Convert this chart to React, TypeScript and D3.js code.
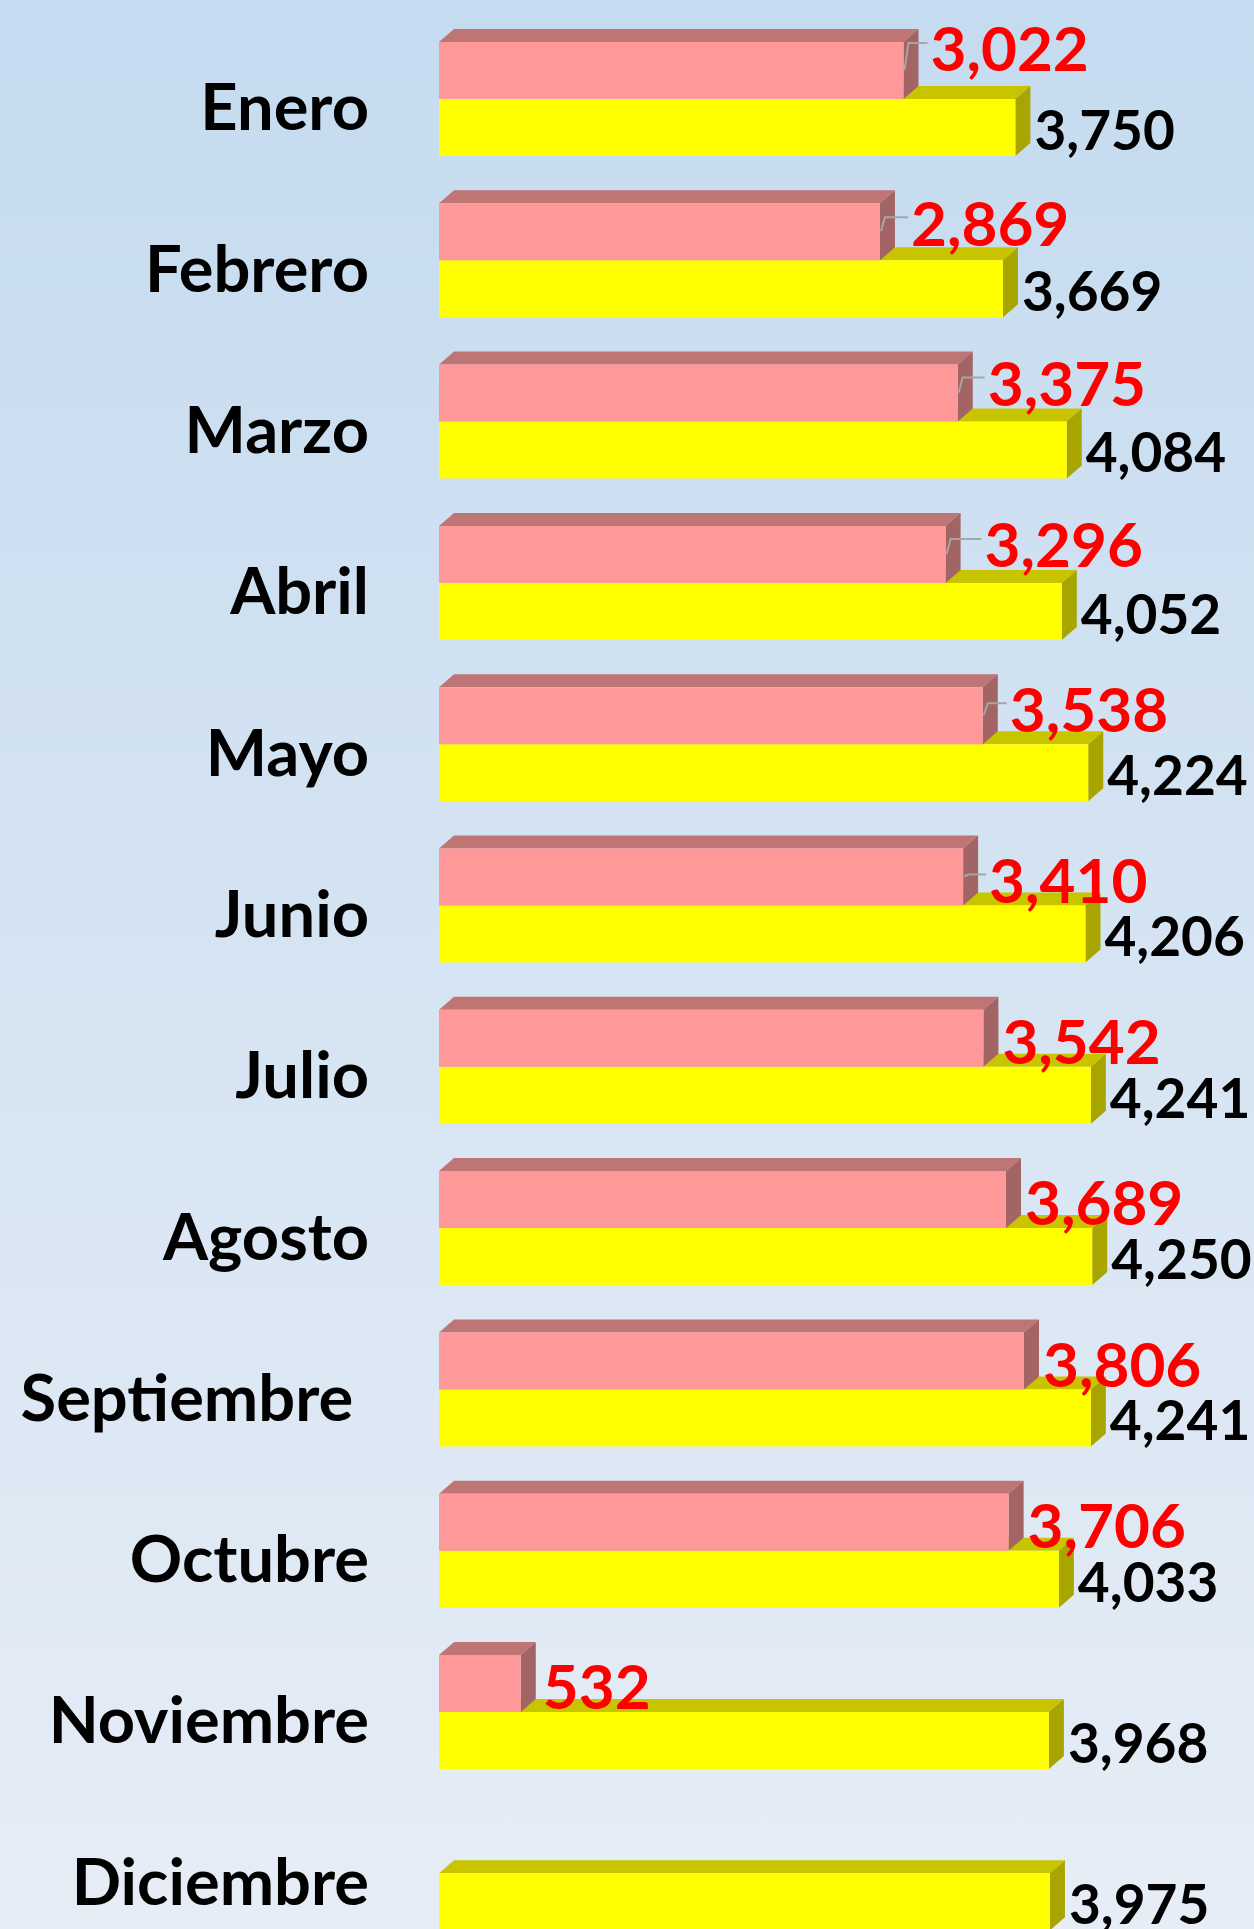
import React from 'react';
import * as d3 from 'd3';

const meses = ['Enero', 'Febrero', 'Marzo', 'Abril', 'Mayo', 'Junio', 'Julio', 'Agosto', 'Septiembre', 'Octubre', 'Noviembre', 'Diciembre'];
const serieRoja: (number | null)[] = [3022, 2869, 3375, 3296, 3538, 3410, 3542, 3689, 3806, 3706, 532, null];
const serieAmarilla = [3750, 3669, 4084, 4052, 4224, 4206, 4241, 4250, 4241, 4033, 3968, 3975];

// label nudges (layout only) for the red labels that were dragged in the original
const nudgeX = [8, 12, 11, 20, 8, 7, 0, 0, 0, 0, 3, 0];
const nudgeY = [-25, -12, -13, -13, -10, 0, 0, 0, 0, 0, 0, 0];

const W = 1254;
const H = 1929;
const BAR_H = 57;
const DX = 15;
const DY = 13;
const FONT = 'Lato, "Open Sans", sans-serif';

const fmt = d3.format(',');

function Bar3D({ x0, x1, y, h, front, top, side }) {
  const frontPts = [[x0, y], [x1, y], [x1, y + h], [x0, y + h]];
  const topPts = [[x0, y], [x0 + DX, y - DY], [x1 + DX, y - DY], [x1, y]];
  const sidePts = [[x1, y], [x1 + DX, y - DY], [x1 + DX, y + h - DY], [x1, y + h]];
  const p = (pts) => pts.map(d => d.join(',')).join(' ');
  return (
    <g>
      <polygon points={p(topPts)} fill={top} />
      <polygon points={p(sidePts)} fill={side} />
      <polygon points={p(frontPts)} fill={front} />
    </g>
  );
}

export default function App() {
  const x = d3.scaleLinear().domain([0, 5000]).range([439, 439 + 5000 * 0.1537]);
  const y = d3.scaleBand().domain(meses).range([42, 42 + 12 * 161.3]).paddingInner(0).paddingOuter(0);

  return (
    <div style={{ position: 'absolute', left: 0, top: 0, width: W, height: H }}>
      <svg width={W} height={H} style={{ display: 'block' }}>
        <defs>
          <linearGradient id="bg" x1="0" y1="0" x2="0" y2="1">
            <stop offset="0" stopColor="#c5dbef" />
            <stop offset="1" stopColor="#e6edf6" />
          </linearGradient>
        </defs>
        <rect x={0} y={0} width={W} height={H} fill="url(#bg)" />

        {meses.map((m, i) => {
          const top = y(m) as number;
          const vr = serieRoja[i];
          const va = serieAmarilla[i];
          const yTop = top + BAR_H;
          const ar = x(va);
          const rr = vr == null ? null : x(vr);
          const labelRX = rr == null ? 0 : rr + DX + 4 + nudgeX[i];
          const labelRY = top + 32 + nudgeY[i];
          const hasLeader = nudgeX[i] > 5 && i < 6;
          return (
            <g key={m}>
              <text
                x={369}
                y={top + 65 + 0.36 * 65}
                textAnchor="end"
                fontFamily={FONT}
                fontWeight={700}
                fontSize={65}
                fill="#000"
              >
                {m === 'Septiembre' ? m + '\u00a0' : m}
              </text>

              <Bar3D x0={x(0)} x1={ar} y={yTop} h={BAR_H} front="#ffff00" top="#c8c400" side="#a9a500" />
              {rr != null && (
                <Bar3D x0={x(0)} x1={rr} y={top} h={BAR_H} front="#ff9999" top="#c07575" side="#a26464" />
              )}

              {rr != null && hasLeader && (
                <polyline
                  points={`${rr + 1},${top + 28} ${rr + 5},${labelRY - 6} ${labelRX - 3},${labelRY - 6}`}
                  fill="none"
                  stroke="#a6a6a6"
                  strokeWidth={2}
                />
              )}

              {vr != null && (
                <text
                  x={labelRX}
                  y={labelRY + 0.36 * 62}
                  fontFamily={FONT}
                  fontWeight={700}
                  fontSize={62}
                  fill="#ff0000"
                >
                  {fmt(vr)}
                </text>
              )}

              <text
                x={ar + DX + 4}
                y={yTop + 31 + 0.36 * 55}
                fontFamily={FONT}
                fontWeight={700}
                fontSize={55}
                fill="#000"
              >
                {fmt(va)}
              </text>
            </g>
          );
        })}
      </svg>
    </div>
  );
}
